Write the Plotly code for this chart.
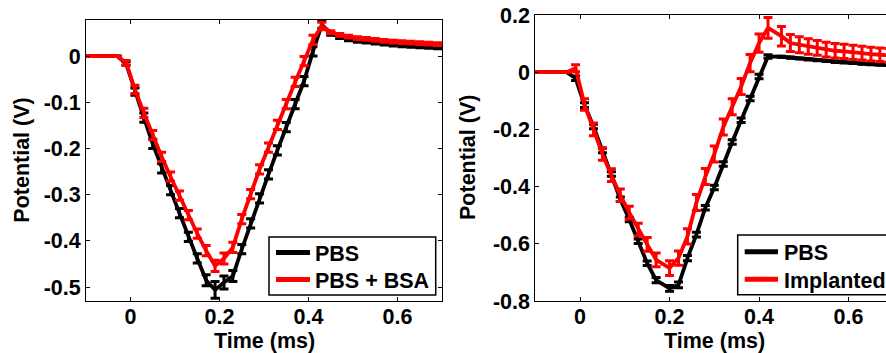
import plotly.graph_objects as go

# ---------------- data ----------------
t_left = [-0.11, -0.09, -0.07, -0.05, -0.03, -0.01, 0.01, 0.03, 0.05, 0.07, 0.09,
          0.11, 0.13, 0.15, 0.17, 0.19, 0.21, 0.23, 0.25, 0.27, 0.29, 0.31, 0.33,
          0.35, 0.37, 0.39, 0.41, 0.43, 0.45, 0.47, 0.49, 0.51, 0.53, 0.55, 0.57,
          0.59, 0.61, 0.63, 0.65, 0.67, 0.69, 0.71]

pbs_left = [0, 0, 0, 0, 0, -0.016, -0.077, -0.133, -0.19, -0.243, -0.29,
            -0.34, -0.391, -0.438, -0.485, -0.506, -0.49, -0.476, -0.418, -0.362, -0.308, -0.256, -0.204,
            -0.154, -0.104, -0.054, 0.01, 0.068, 0.048, 0.041, 0.036, 0.033, 0.031, 0.029, 0.027,
            0.025, 0.023, 0.022, 0.021, 0.020, 0.019, 0.018]
pbs_left_err = [0, 0, 0, 0, 0, 0.004, 0.008, 0.01, 0.01, 0.01, 0.01,
                0.01, 0.01, 0.01, 0.012, 0.018, 0.014, 0.012, 0.01, 0.01, 0.01, 0.01, 0.01,
                0.01, 0.01, 0.01, 0.01, 0.008, 0.003, 0.003, 0.003, 0.003, 0.003, 0.003, 0.003,
                0.003, 0.003, 0.003, 0.003, 0.003, 0.003, 0.003]

bsa_left = [0, 0, 0, 0, 0, -0.0145, -0.072, -0.123, -0.171, -0.218, -0.261,
            -0.302, -0.344, -0.384, -0.421, -0.454, -0.438, -0.414, -0.353, -0.299, -0.245, -0.198, -0.149,
            -0.104, -0.056, -0.011, 0.035, 0.065, 0.052, 0.046, 0.042, 0.039, 0.037, 0.035, 0.033,
            0.031, 0.030, 0.029, 0.028, 0.027, 0.026, 0.025]
bsa_left_err = [0, 0, 0, 0, 0, 0.005, 0.009, 0.01, 0.01, 0.01, 0.01,
                0.01, 0.01, 0.01, 0.011, 0.012, 0.012, 0.011, 0.01, 0.01, 0.01, 0.01, 0.01,
                0.01, 0.01, 0.01, 0.01, 0.008, 0.003, 0.003, 0.003, 0.003, 0.003, 0.003, 0.003,
                0.003, 0.003, 0.003, 0.003, 0.003, 0.003, 0.003]

t_right = [-0.11, -0.09, -0.07, -0.05, -0.03, -0.01, 0.01, 0.03, 0.05, 0.07, 0.09,
           0.11, 0.13, 0.15, 0.17, 0.20, 0.22, 0.24, 0.26, 0.28, 0.30, 0.32, 0.34,
           0.36, 0.38, 0.40, 0.42, 0.45, 0.47, 0.49, 0.51, 0.53, 0.55, 0.57, 0.59,
           0.61, 0.63, 0.65, 0.67, 0.69, 0.71]

pbs_right = [0, 0, 0, 0, 0, -0.021, -0.115, -0.19, -0.274, -0.356, -0.444,
             -0.515, -0.591, -0.668, -0.727, -0.756, -0.744, -0.650, -0.568, -0.474, -0.403, -0.321, -0.244,
             -0.168, -0.092, -0.015, 0.055, 0.054, 0.051, 0.048, 0.045, 0.042, 0.039, 0.036, 0.034,
             0.032, 0.030, 0.028, 0.026, 0.025, 0.024]
pbs_right_err = [0, 0, 0, 0, 0, 0.008, 0.008, 0.008, 0.008, 0.008, 0.008,
                 0.008, 0.008, 0.008, 0.009, 0.01, 0.01, 0.009, 0.008, 0.008, 0.008, 0.008, 0.008,
                 0.008, 0.008, 0.008, 0.006, 0.002, 0.002, 0.002, 0.002, 0.002, 0.002, 0.002, 0.002,
                 0.002, 0.002, 0.002, 0.002, 0.002, 0.002]

imp_right = [0, 0, 0, 0, 0, 0.014, -0.113, -0.200, -0.286, -0.360, -0.430,
             -0.491, -0.550, -0.602, -0.656, -0.685, -0.650, -0.574, -0.456, -0.365, -0.286, -0.192, -0.121,
             -0.050, 0.032, 0.102, 0.155, 0.126, 0.102, 0.096, 0.090, 0.085, 0.079, 0.075, 0.073,
             0.069, 0.067, 0.063, 0.061, 0.059, 0.058]
imp_right_err = [0, 0, 0, 0, 0, 0.012, 0.02, 0.022, 0.022, 0.022, 0.022,
                 0.022, 0.022, 0.024, 0.024, 0.026, 0.025, 0.027, 0.028, 0.028, 0.028, 0.028, 0.028,
                 0.028, 0.03, 0.032, 0.036, 0.034, 0.03, 0.028, 0.027, 0.026, 0.026, 0.025, 0.025,
                 0.025, 0.024, 0.024, 0.024, 0.024, 0.024]

x_ticks = [0, 0.2, 0.4, 0.6]
y_ticks_left = [-0.5, -0.4, -0.3, -0.2, -0.1, 0]
y_ticks_right = [-0.8, -0.6, -0.4, -0.2, 0, 0.2]

names_left = ["PBS", "PBS + BSA"]
names_right = ["PBS", "Implanted"]
x_title = "Time (ms)"
y_title = "Potential (V)"

# ---------------- styling ----------------
W, H = 886, 353
FONT = "Liberation Sans, Arial, Helvetica, sans-serif"
FS = 21.5
BLACK = "#000000"
RED = "#ff0000"
LW = 3.8


def lbl(v):
    return "0" if v == 0 else f"{v:g}"


def trace(x, y, err, color, name, xa, ya):
    return go.Scatter(
        x=x, y=y, mode="lines", name=name, showlegend=False,
        line=dict(color=color, width=LW),
        error_y=dict(type="data", array=err, color=color, thickness=3, width=4.5),
        xaxis=xa, yaxis=ya,
    )


fig = go.Figure()
fig.add_trace(trace(t_left, pbs_left, pbs_left_err, BLACK, names_left[0], "x", "y"))
fig.add_trace(trace(t_left, bsa_left, bsa_left_err, RED, names_left[1], "x", "y"))
fig.add_trace(trace(t_right, pbs_right, pbs_right_err, BLACK, names_right[0], "x2", "y2"))
fig.add_trace(trace(t_right, imp_right, imp_right_err, RED, names_right[1], "x2", "y2"))

tickfont = dict(family=FONT, size=FS, color=BLACK, weight="bold")
axis_common = dict(
    showgrid=False, zeroline=False, showline=True, linecolor=BLACK, linewidth=1,
    ticks="inside", ticklen=4, tickcolor=BLACK, tickwidth=1,
    tickfont=tickfont, automargin=False,
)

# plot-area pixel boxes
L_x0, L_x1, L_y0, L_y1 = 86, 442, 20, 301
R_x0, R_x1, R_y0, R_y1 = 535.3, 886, 15, 301

fig.update_layout(
    width=W, height=H, template="none",
    margin=dict(l=0, r=0, t=0, b=0, pad=0),
    paper_bgcolor="white", plot_bgcolor="white",
    font=dict(family=FONT, size=FS, color=BLACK, weight="bold"),
    showlegend=False,
    xaxis=dict(domain=[L_x0 / W, L_x1 / W], range=[-0.1, 0.7], anchor="y", ticklabelstandoff=-4,
               tickvals=x_ticks, ticktext=[lbl(v) for v in x_ticks], mirror="ticks", **axis_common),
    yaxis=dict(domain=[1 - L_y1 / H, 1 - L_y0 / H], range=[-0.53, 0.078], anchor="x",
               tickvals=y_ticks_left, ticktext=[lbl(v) for v in y_ticks_left], mirror="ticks", **axis_common),
    xaxis2=dict(domain=[R_x0 / W, R_x1 / W], range=[-0.1, 0.6837], anchor="y2", ticklabelstandoff=-4,
                tickvals=x_ticks, ticktext=[lbl(v) for v in x_ticks], mirror="ticks", **axis_common),
    yaxis2=dict(domain=[1 - R_y1 / H, 1 - R_y0 / H], range=[-0.8, 0.2], anchor="x2",
                tickvals=y_ticks_right, ticktext=[lbl(v) for v in y_ticks_right], mirror=False, **axis_common),
)

title_font = dict(family=FONT, size=FS, color=BLACK, weight="bold")
for cx, cy in [((L_x0 + L_x1) / 2, 341), (714.7, 341)]:
    fig.add_annotation(text=x_title, x=cx / W, y=1 - cy / H, xref="paper", yref="paper",
                       xanchor="center", yanchor="middle", showarrow=False, font=title_font)
for cx, cy in [(21.7, 160), (468, 158)]:
    fig.add_annotation(text=y_title, x=cx / W, y=1 - cy / H, xref="paper", yref="paper",
                       xanchor="center", yanchor="middle", showarrow=False, textangle=-90, font=title_font)

# ---------------- legends (boxed keys, in paper coordinates) ----------------
def px(x):
    return x / W


def py(y):
    return 1 - y / H


legends = [
    # box (x0, y0, x1, y1), line x0, line x1, text x, row ys, names
    ((269, 237, 435.7, 295), 276, 310, 313, (252.5, 279.5), names_left),
    ((737.7, 235, 905, 294.7), 744.7, 778, 782, (251.7, 279.3), names_right),
]
for (bx0, by0, bx1, by1), lx0, lx1, tx, rows, names in legends:
    fig.add_shape(type="rect", xref="paper", yref="paper",
                  x0=px(bx0), x1=px(bx1), y0=py(by1), y1=py(by0),
                  line=dict(color=BLACK, width=1.5), fillcolor="white", layer="above")
    for ry, name, color in zip(rows, names, [BLACK, RED]):
        fig.add_shape(type="line", xref="paper", yref="paper",
                      x0=px(lx0), x1=px(lx1), y0=py(ry), y1=py(ry),
                      line=dict(color=color, width=5), layer="above")
        fig.add_annotation(text=name, x=px(tx), y=py(ry + 1.5), xref="paper", yref="paper",
                           xanchor="left", yanchor="middle", showarrow=False, font=title_font)

fig.write_html("out.html")
